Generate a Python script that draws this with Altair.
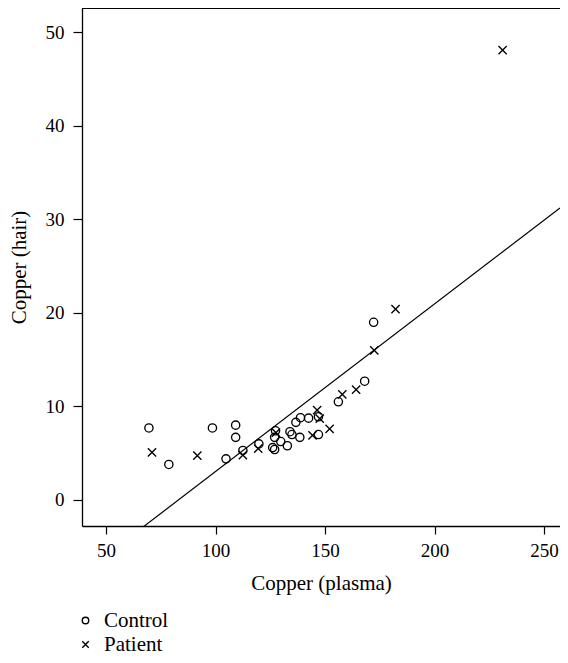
import altair as alt
import pandas as pd

# Control group (open circles)
control_x = [69.6, 78.7, 98.6, 104.8, 109.2, 109.2, 112.5, 119.8, 126.1, 127.0, 127.4, 127.0,
             129.8, 132.8, 134.0, 134.9, 138.5, 136.7, 138.8, 142.5, 147.0, 147.0, 156.1, 168.1, 172.2]
control_y = [7.7, 3.8, 7.7, 4.4, 8.0, 6.7, 5.3, 6.0, 5.6, 5.4, 7.4, 6.7,
             6.25, 5.8, 7.3, 7.0, 6.7, 8.3, 8.8, 8.75, 8.9, 7.0, 10.5, 12.7, 19.0]

# Patient group (crosses)
patient_x = [71.0, 91.7, 112.5, 119.5, 127.6, 144.3, 146.4, 147.6, 152.1, 157.9, 164.2, 172.5, 182.2, 231.1]
patient_y = [5.1, 4.75, 4.8, 5.5, 7.2, 6.9, 9.6, 8.7, 7.6, 11.3, 11.8, 16.0, 20.4, 48.1]

groups = ["Control", "Patient"]

# Fitted line
fit_intercept = -14.88
fit_slope = 0.1792

x_ticks = [50, 100, 150, 200, 250]
y_ticks = [0, 10, 20, 30, 40, 50]
x_domain = [39.04, 257.3]
y_domain = [-2.78, 52.6]

W, H = 478, 518
FONT = "Liberation Serif"

pts = pd.DataFrame({
    "plasma": control_x + patient_x,
    "hair": control_y + patient_y,
    "group": [groups[0]] * len(control_x) + [groups[1]] * len(patient_x),
})
line_df = pd.DataFrame({
    "plasma": x_domain,
    "hair": [fit_intercept + fit_slope * v for v in x_domain],
})

xscale = alt.Scale(domain=x_domain, nice=False, zero=False)
yscale = alt.Scale(domain=y_domain, nice=False, zero=False)

xaxis = alt.Axis(values=x_ticks, title="Copper (plasma)", grid=False,
                 tickSize=8, labelPadding=7, titlePadding=12)
yaxis = alt.Axis(values=y_ticks, title="Copper (hair)", grid=False,
                 tickSize=9, labelPadding=9, titlePadding=16)

cross_path = "M-1,-1L1,1M-1,1L1,-1"

points = alt.Chart(pts).mark_point(filled=False, color="black", strokeWidth=1.35, size=68, opacity=1).encode(
    x=alt.X("plasma:Q", scale=xscale, axis=xaxis),
    y=alt.Y("hair:Q", scale=yscale, axis=yaxis),
    shape=alt.Shape("group:N",
                    scale=alt.Scale(domain=groups, range=["circle", cross_path]),
                    legend=alt.Legend(title=None, orient="none", legendX=-7, legendY=602,
                                      labelFont=FONT, labelFontSize=21, labelColor="black",
                                      symbolSize=42, symbolStrokeWidth=1.4, symbolStrokeColor="black",
                                      symbolFillColor="transparent",
                                      labelOffset=8, rowPadding=2, padding=0)),
)

line = alt.Chart(line_df).mark_line(color="black", strokeWidth=1.2, clip=True).encode(
    x=alt.X("plasma:Q", scale=xscale),
    y=alt.Y("hair:Q", scale=yscale),
)

top_border = alt.Chart(pts).mark_rule(color="black", strokeWidth=1.3).encode(
    x=alt.value(0), x2=alt.value(W), y=alt.value(0)
)

chart = alt.layer(line, points, top_border).properties(
    width=W, height=H,
    autosize=alt.AutoSizeParams(type="none"),
    padding={"left": 74, "top": 0, "right": 0, "bottom": 129},
).configure_view(stroke=None).configure_axis(
    labelFont=FONT, titleFont=FONT, labelFontSize=19, titleFontSize=21,
    labelColor="black", titleColor="black", titleFontWeight="normal",
    domainColor="black", domainWidth=1.3, tickColor="black", tickWidth=1.2,
)

chart.save("out.html", embed_options={"renderer": "svg", "actions": False})
